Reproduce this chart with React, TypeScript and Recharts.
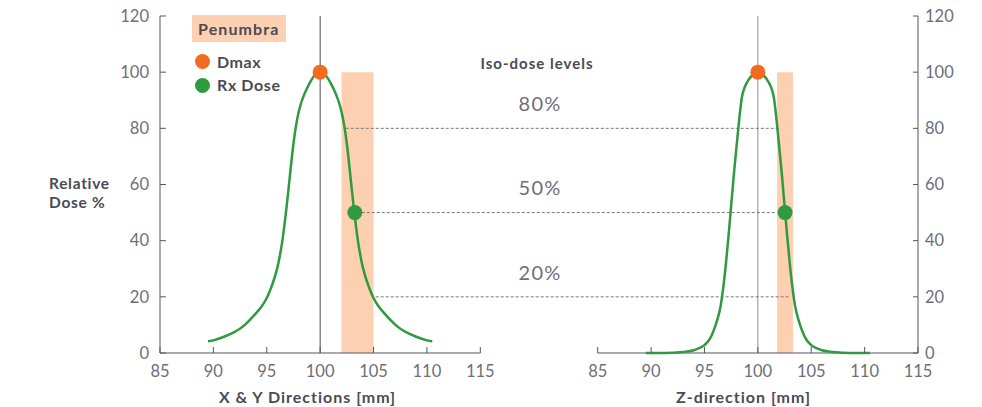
import React from 'react';
import {
  ComposedChart,
  Line,
  XAxis,
  YAxis,
  ReferenceLine,
  ReferenceArea,
  ReferenceDot
} from 'recharts';

// axis ticks
const X_TICKS = [85, 90, 95, 100, 105, 110, 115];
const Y_TICKS = [0, 20, 40, 60, 80, 100, 120];

// X & Y profile (mm, relative dose %)
const XY_POS = [
  89.5, 90, 91, 92, 93, 94, 94.5, 95, 95.5, 96, 96.5, 97, 97.5, 98, 98.5, 99, 99.5,
  100,
  100.5, 101, 101.5, 102, 102.5, 103, 103.5, 104, 104.5, 105, 105.5, 106, 107, 108, 109, 110, 110.5
];
const XY_DOSE = [
  4.2, 4.5, 5.8, 7.5, 10.2, 14.2, 16.5, 19.6, 24.2, 30.5, 41, 57, 74.5, 86, 92, 96, 99,
  100,
  99, 96, 92, 86, 74.5, 57, 41, 30.5, 24.2, 19.6, 16.5, 14.2, 10.2, 7.5, 5.8, 4.5, 4.2
];

// Z profile (mm, relative dose %)
const Z_POS = [
  89.5, 91, 92, 93, 94, 94.5, 95, 95.5, 96, 96.25, 96.5, 96.75, 97, 97.25, 97.5, 97.75,
  98, 98.25, 98.5, 98.75, 99, 99.5,
  100,
  100.5, 101, 101.25, 101.5, 101.75, 102, 102.25, 102.5, 102.75, 103, 103.25, 103.5,
  103.75, 104, 104.5, 105, 105.5, 106, 107, 108, 109, 110.5
];
const Z_DOSE = [
  0, 0, 0.1, 0.35, 1, 1.7, 2.8, 5, 9.5, 12.5, 16.5, 23, 31.5, 41.5, 52.5, 63.5,
  73.5, 83, 91, 94.5, 96.5, 99,
  100,
  99, 96.5, 94.5, 91, 83, 73.5, 63.5, 52.5, 41.5, 31.5, 23, 16.5,
  12.5, 9.5, 5, 2.8, 1.7, 1, 0.35, 0.1, 0, 0
];

// markers
const DMAX = { pos: 100, dose: 100 };
const RX_XY = { pos: 103.25, dose: 50 };
const RX_Z = { pos: 102.55, dose: 50 };
const PENUMBRA_XY = [102, 105];
const PENUMBRA_Z = [101.8, 103.3];

// iso-dose guide lines: start on the XY panel, end on the Z panel
const ISO_LEVELS = [80, 50, 20];
const ISO_FROM_XY = [102.4, 103.9, 105.2];
const ISO_TO_Z = [101.95, 101.6, 102.9];

// both panels share one x scale, the Z panel is shifted right by this many mm
const Z_SHIFT = 41;

const GREEN = '#2f9a3f';
const ORANGE = '#f36b21';
const PEACH = '#fdd0b2';
const AXIS = '#55575f';
const TICK_TEXT = '#6d6f78';
const LABEL = '#4a4b55';
const FONT = 'Lato, "Open Sans", sans-serif';

const xyRows = XY_POS.map((x, i) => ({ x, y: XY_DOSE[i] }));
const zRows = Z_POS.map((x, i) => ({ x: x + Z_SHIFT, y: Z_DOSE[i] }));

const XTick = (props: any) => {
  const { x, y, payload } = props;
  const v = payload.value > 120 ? payload.value - Z_SHIFT : payload.value;
  return (
    <g>
      <line x1={x} x2={x} y1={y} y2={y - 6} stroke={AXIS} />
      <text x={x} y={y + 18} dy="0.35em" textAnchor="middle" fill={TICK_TEXT} fontSize={16.5}>
        {v}
      </text>
    </g>
  );
};

const LeftTick = (props: any) => {
  const { x, y, payload } = props;
  return (
    <g>
      <line x1={x} x2={x + 6} y1={y} y2={y} stroke={AXIS} />
      <text x={x - 11} y={y} dy="0.35em" textAnchor="end" fill={TICK_TEXT} fontSize={16.5}>
        {payload.value}
      </text>
    </g>
  );
};

const RightTick = (props: any) => {
  const { x, y, payload } = props;
  return (
    <g>
      <line x1={x} x2={x - 5} y1={y} y2={y} stroke={AXIS} />
      <text x={x + 7} y={y} dy="0.35em" textAnchor="start" fill={TICK_TEXT} fontSize={16.5}>
        {payload.value}
      </text>
    </g>
  );
};

const centered = (x: number, y: number): React.CSSProperties => ({
  position: 'absolute',
  left: x,
  top: y,
  transform: 'translate(-50%, -50%)',
  lineHeight: 1,
  whiteSpace: 'nowrap'
});

const boldText: React.CSSProperties = {
  color: LABEL,
  fontWeight: 700,
  fontSize: 16
};

export default function App() {
  return (
    <div style={{ position: 'absolute', left: 0, top: 0, width: 982, height: 407, fontFamily: FONT, background: '#fff' }}>
      <ComposedChart width={982} height={407} margin={{ top: 16, right: 14, bottom: 24, left: 100 }}>
        <XAxis
          type="number"
          dataKey="x"
          domain={[85, 115 + Z_SHIFT]}
          ticks={[...X_TICKS, ...X_TICKS.map((t) => t + Z_SHIFT)]}
          interval={0}
          allowDataOverflow
          axisLine={false}
          tickLine={false}
          tickSize={0}
          tickMargin={0}
          height={30}
          tick={XTick}
        />
        <YAxis
          yAxisId="l"
          domain={[0, 120]}
          ticks={Y_TICKS}
          interval={0}
          width={60}
          axisLine={{ stroke: AXIS }}
          tickLine={false}
          tickSize={0}
          tickMargin={0}
          tick={LeftTick}
        />
        <YAxis
          yAxisId="r"
          orientation="right"
          domain={[0, 120]}
          ticks={Y_TICKS}
          interval={0}
          width={50}
          axisLine={{ stroke: AXIS }}
          tickLine={false}
          tickSize={0}
          tickMargin={0}
          tick={RightTick}
        />

        <ReferenceArea
          yAxisId="l"
          x1={PENUMBRA_XY[0]}
          x2={PENUMBRA_XY[1]}
          y1={0}
          y2={100}
          fill={PEACH}
          fillOpacity={1}
          stroke="none"
        />
        <ReferenceArea
          yAxisId="r"
          x1={PENUMBRA_Z[0] + Z_SHIFT}
          x2={PENUMBRA_Z[1] + Z_SHIFT}
          y1={0}
          y2={100}
          fill={PEACH}
          fillOpacity={1}
          stroke="none"
        />

        <ReferenceLine yAxisId="l" x={100} stroke="#4b4c55" />
        <ReferenceLine yAxisId="r" x={100 + Z_SHIFT} stroke="#8e8f96" />
        <ReferenceLine yAxisId="l" segment={[{ x: 85, y: 0 }, { x: 115, y: 0 }]} stroke={AXIS} />
        <ReferenceLine
          yAxisId="r"
          segment={[{ x: 85 + Z_SHIFT, y: 0 }, { x: 115 + Z_SHIFT, y: 0 }]}
          stroke={AXIS}
        />

        {ISO_LEVELS.map((lv, i) => (
          <ReferenceLine
            key={lv}
            yAxisId="l"
            segment={[{ x: ISO_FROM_XY[i], y: lv }, { x: ISO_TO_Z[i] + Z_SHIFT, y: lv }]}
            stroke="#77787f"
            strokeDasharray="3 2"
          />
        ))}

        <Line
          yAxisId="l"
          data={xyRows}
          dataKey="y"
          type="natural"
          stroke={GREEN}
          strokeWidth={2.5}
          dot={false}
          isAnimationActive={false}
        />
        <Line
          yAxisId="r"
          data={zRows}
          dataKey="y"
          type="monotone"
          stroke={GREEN}
          strokeWidth={2.5}
          dot={false}
          isAnimationActive={false}
        />

        <ReferenceDot yAxisId="l" x={DMAX.pos} y={DMAX.dose} r={7.5} fill={ORANGE} stroke="none" />
        <ReferenceDot yAxisId="r" x={DMAX.pos + Z_SHIFT} y={DMAX.dose} r={7.5} fill={ORANGE} stroke="none" />
        <ReferenceDot yAxisId="l" x={RX_XY.pos} y={RX_XY.dose} r={7.5} fill={GREEN} stroke="none" />
        <ReferenceDot yAxisId="r" x={RX_Z.pos + Z_SHIFT} y={RX_Z.dose} r={7.5} fill={GREEN} stroke="none" />
      </ComposedChart>

      {/* y axis title */}
      <div style={{ position: 'absolute', left: 49, top: 173.5, lineHeight: '19px', ...boldText, fontSize: 15.5, letterSpacing: 0.7 }}>
        Relative
        <br />
        Dose %
      </div>

      {/* legend */}
      <div
        style={{
          position: 'absolute',
          left: 192,
          top: 15,
          width: 94,
          height: 27,
          background: PEACH,
          display: 'flex',
          alignItems: 'center',
          paddingLeft: 6,
          boxSizing: 'border-box',
          ...boldText,
          letterSpacing: 1.1
        }}
      >
        Penumbra
      </div>
      <div style={{ position: 'absolute', left: 195, top: 54, width: 15, height: 15, borderRadius: '50%', background: ORANGE }} />
      <div style={{ position: 'absolute', left: 217, top: 61.5, transform: 'translateY(-50%)', lineHeight: 1, ...boldText, letterSpacing: 0.6 }}>Dmax</div>
      <div style={{ position: 'absolute', left: 195, top: 77.5, width: 15, height: 15, borderRadius: '50%', background: GREEN }} />
      <div style={{ position: 'absolute', left: 217, top: 85, transform: 'translateY(-50%)', lineHeight: 1, ...boldText, letterSpacing: 0.6 }}>Rx Dose</div>

      {/* iso-dose labels */}
      <div style={{ ...centered(537, 63), ...boldText, fontSize: 15, letterSpacing: 1 }}>Iso-dose levels</div>
      {ISO_LEVELS.map((lv, i) => (
        <div key={lv} style={{ ...centered(540, 102.7 + i * 84.5), color: TICK_TEXT, fontSize: 20, letterSpacing: 1.2 }}>
          {lv}%
        </div>
      ))}

      {/* x axis titles */}
      <div style={{ ...centered(307.5, 397), ...boldText, letterSpacing: 1 }}>X &amp; Y Directions [mm]</div>
      <div style={{ ...centered(743.5, 397), ...boldText, letterSpacing: 1 }}>Z-direction [mm]</div>
    </div>
  );
}
